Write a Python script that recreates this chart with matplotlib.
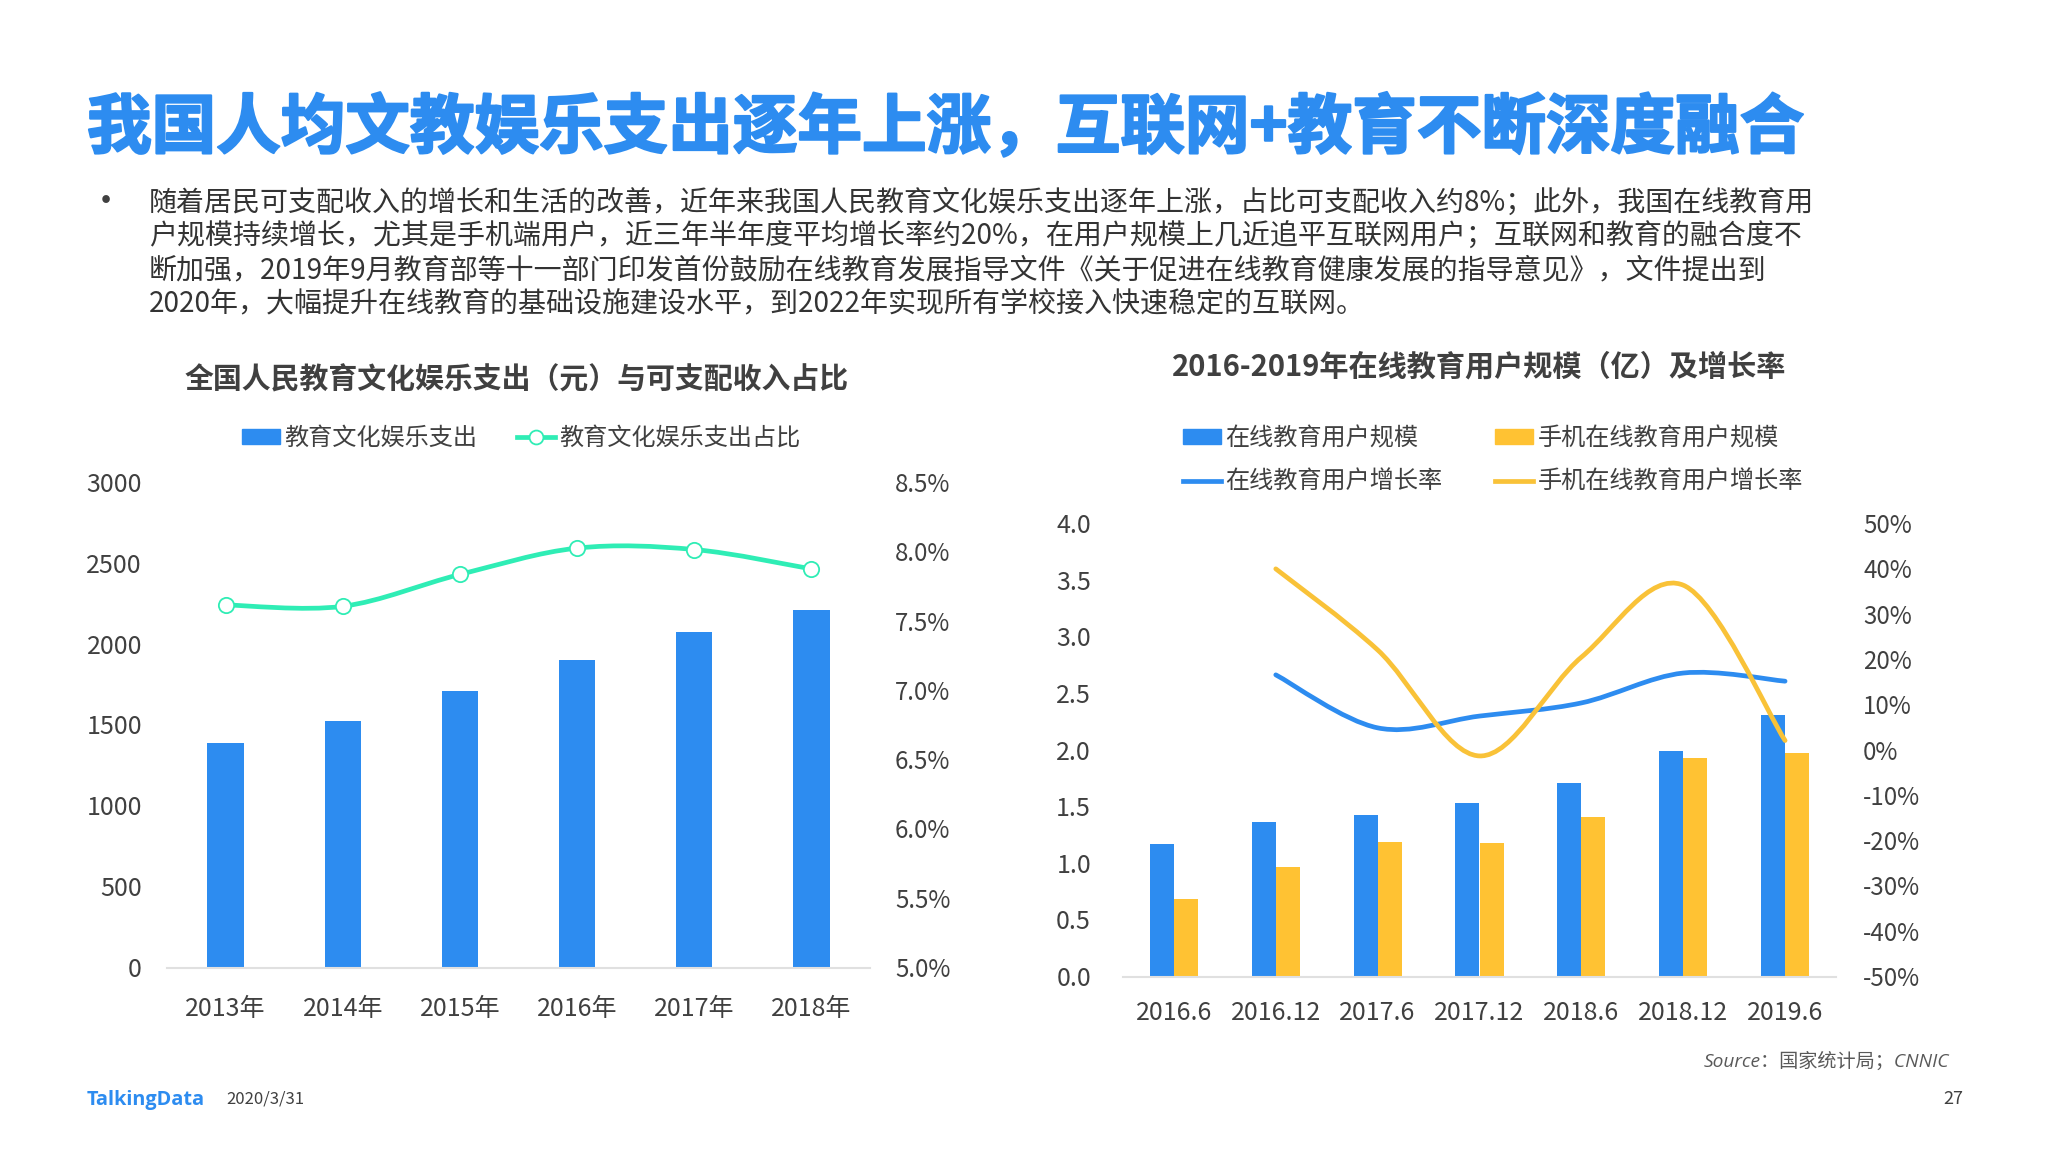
import matplotlib
matplotlib.use("Agg")
import matplotlib.pyplot as plt
import matplotlib.patheffects as pe
from matplotlib.lines import Line2D
from matplotlib.patches import Patch, PathPatch
from matplotlib.path import Path
from matplotlib.transforms import ScaledTranslation

plt.rcParams['font.family'] = ['Noto Sans CJK SC', 'DejaVu Sans']

# left chart
years = ['2013年', '2014年', '2015年', '2016年', '2017年', '2018年']
spend = [1390, 1528, 1714, 1908, 2078, 2216]
spend_share = [7.62, 7.61, 7.84, 8.03, 8.02, 7.88]
left_ticks = [0, 500, 1000, 1500, 2000, 2500, 3000]
share_ticks = [5.0, 5.5, 6.0, 6.5, 7.0, 7.5, 8.0, 8.5]

# right chart
periods = ['2016.6', '2016.12', '2017.6', '2017.12', '2018.6', '2018.12', '2019.6']
users = [1.17, 1.37, 1.43, 1.54, 1.71, 2.00, 2.31]
mobile_users = [0.69, 0.97, 1.19, 1.18, 1.41, 1.93, 1.98]
user_growth = [16.7, 5.0, 7.6, 10.5, 17.1, 15.3]
mobile_growth = [40.1, 22.2, -1.2, 20.6, 36.5, 2.2]
user_ticks = [0.0, 0.5, 1.0, 1.5, 2.0, 2.5, 3.0, 3.5, 4.0]
growth_ticks = [-50, -40, -30, -20, -10, 0, 10, 20, 30, 40, 50]

title = '我国人均文教娱乐支出逐年上涨，互联网+教育不断深度融合'
body = [
    '随着居民可支配收入的增长和生活的改善，近年来我国人民教育文化娱乐支出逐年上涨，占比可支配收入约8%；此外，我国在线教育用',
    '户规模持续增长，尤其是手机端用户，近三年半年度平均增长率约20%，在用户规模上几近追平互联网用户；互联网和教育的融合度不',
    '断加强，2019年9月教育部等十一部门印发首份鼓励在线教育发展指导文件《关于促进在线教育健康发展的指导意见》，文件提出到',
    '2020年，大幅提升在线教育的基础设施建设水平，到2022年实现所有学校接入快速稳定的互联网。',
]

W, H = 2048, 1152
BLUE = '#2D8CF0'
ORANGE = '#FFC233'
LINE_ORANGE = '#F9C238'
TEAL = '#2FEDB5'
DARK = '#404040'
GREY = '#E0E0E0'


def fx(x):
    return x / W


def fy(y):
    return 1 - y / H


def make_axes(left, right, top, bottom):
    return fig.add_axes([fx(left), fy(bottom), (right - left) / W, (bottom - top) / H])


# smoothed line like the office charts (catmull-rom as bezier)
def smooth_path(x, y):
    verts = [(x[0], y[0])]
    codes = [Path.MOVETO]
    n = len(x)
    for i in range(n - 1):
        x0, y0 = (x[i - 1], y[i - 1]) if i > 0 else (x[i], y[i])
        x3, y3 = (x[i + 2], y[i + 2]) if i + 2 < n else (x[i + 1], y[i + 1])
        verts.append((x[i] + (x[i + 1] - x0) / 6, y[i] + (y[i + 1] - y0) / 6))
        verts.append((x[i + 1] - (x3 - x[i]) / 6, y[i + 1] - (y3 - y[i]) / 6))
        verts.append((x[i + 1], y[i + 1]))
        codes += [Path.CURVE4, Path.CURVE4, Path.CURVE4]
    return Path(verts, codes)


def style_axes(ax, ax_right, pad_left, pad_right, pad_x):
    for a in (ax, ax_right):
        for s in a.spines.values():
            s.set_visible(False)
        a.patch.set_visible(False)
    ax.spines['bottom'].set_visible(True)
    ax.spines['bottom'].set_color(GREY)
    ax.spines['bottom'].set_linewidth(1.5)
    ax.tick_params(axis='y', length=0, pad=pad_left, labelsize=18, labelcolor=DARK)
    ax.tick_params(axis='x', length=0, pad=pad_x, labelsize=18, labelcolor=DARK)
    ax_right.tick_params(axis='y', length=0, pad=pad_right, labelsize=17.3, labelcolor=DARK)
    # labels sit a little above the tick position in the original
    shift = ScaledTranslation(0, 1 / 100, fig.dpi_scale_trans)
    for lbl in ax.get_yticklabels() + ax_right.get_yticklabels():
        lbl.set_transform(lbl.get_transform() + shift)


fig = plt.figure(figsize=(W / 100, H / 100), dpi=100, facecolor='white')

# page text
fig.text(fx(87), fy(129), title, fontsize=46.5, fontweight='bold', color=BLUE, va='center', ha='left',
         path_effects=[pe.withStroke(linewidth=1.6, foreground=BLUE)])
fig.text(fx(100 - 12), fy(203), '•', fontsize=26, color=DARK, va='center', ha='left')
for line, y in zip(body, [203, 237, 270, 304]):
    fig.text(fx(149), fy(y), line, fontsize=20.17, color='#333333', va='center', ha='left')

# left chart
ax1 = make_axes(167, 870, 483, 968)
ax1b = ax1.twinx()
x1 = list(range(len(years)))
ax1.bar(x1, spend, width=0.31, color=BLUE)
ax1.set_xlim(-0.5, 5.5)
ax1.set_ylim(0, 3000)
ax1.set_xticks(x1)
ax1.set_xticklabels(years)
ax1.set_yticks(left_ticks)
ax1b.set_ylim(5, 8.5)
ax1b.set_yticks(share_ticks)
ax1b.set_yticklabels([f'{v:.1f}%' for v in share_ticks])
ax1b.add_patch(PathPatch(smooth_path(x1, spend_share), fill=False, edgecolor=TEAL, lw=3.4, capstyle='round'))
ax1b.plot(x1, spend_share, ls='none', marker='o', ms=11, mfc='white', mec=TEAL, mew=1.3)
style_axes(ax1, ax1b, 18, 18, 20)
fig.text(fx(517), fy(379), '全国人民教育文化娱乐支出（元）与可支配收入占比', fontsize=20.8, fontweight='bold',
         color=DARK, va='center', ha='center')
fig.legend(handles=[Patch(color=BLUE, label='教育文化娱乐支出'),
                    Line2D([], [], color=TEAL, lw=3.4, marker='o', ms=10, mfc='white', mew=1.3, label='教育文化娱乐支出占比')],
           loc='center', bbox_to_anchor=(fx(521), fy(438)), ncols=2, frameon=False, fontsize=17.4,
           labelcolor=DARK, handlelength=1.57, handleheight=0.6, handletextpad=0.17, columnspacing=1.67)

# right chart
ax2 = make_axes(1123, 1836, 524, 977)
ax2b = ax2.twinx()
x2 = list(range(len(periods)))
bw = 0.237
ax2.bar([i - bw / 2 for i in x2], users, width=bw, color=BLUE)
ax2.bar([i + bw / 2 for i in x2], mobile_users, width=bw, color=ORANGE)
ax2.set_xlim(-0.5, 6.5)
ax2.set_ylim(0, 4)
ax2.set_xticks(x2)
ax2.set_xticklabels(periods)
ax2.set_yticks(user_ticks)
ax2.set_yticklabels([f'{v:.1f}' for v in user_ticks])
ax2b.set_ylim(-50, 50)
ax2b.set_yticks(growth_ticks)
ax2b.set_yticklabels([f'{v}%' for v in growth_ticks])
ax2b.add_patch(PathPatch(smooth_path(x2[1:], user_growth), fill=False, edgecolor=BLUE, lw=3.4, capstyle='round'))
ax2b.add_patch(PathPatch(smooth_path(x2[1:], mobile_growth), fill=False, edgecolor=LINE_ORANGE, lw=3.4, capstyle='round'))
style_axes(ax2, ax2b, 23, 19.5, 16.5)
fig.text(fx(1479), fy(366), '2016-2019年在线教育用户规模（亿）及增长率', fontsize=21, fontweight='bold',
         color=DARK, va='center', ha='center')
fig.legend(handles=[Patch(color=BLUE, label='在线教育用户规模'),
                    Line2D([], [], color=BLUE, lw=3.4, label='在线教育用户增长率'),
                    Patch(color=ORANGE, label='手机在线教育用户规模'),
                    Line2D([], [], color=LINE_ORANGE, lw=3.4, label='手机在线教育用户增长率')],
           loc='center', bbox_to_anchor=(fx(1493), fy(460)), ncols=2, frameon=False, fontsize=17.4,
           labelcolor=DARK, handlelength=1.57, handleheight=0.6, handletextpad=0.17, columnspacing=2.2,
           labelspacing=0.74)

# footer
fig.text(fx(87), fy(1100), 'TalkingData', fontsize=14.3, fontweight='bold', color=BLUE, va='center', ha='left',
         family=['Open Sans', 'DejaVu Sans'])
fig.text(fx(226), fy(1099), '2020/3/31', fontsize=12, color=DARK, va='center', ha='left')
fig.text(fx(1949), fy(1061), 'Source：国家统计局；CNNIC', fontsize=13.8, style='italic', color='#595959',
         va='center', ha='right', family=['Open Sans', 'Noto Sans CJK SC'])
fig.text(fx(1963), fy(1099), '27', fontsize=13, color=DARK, va='center', ha='right')

fig.savefig('out.png', dpi=100)
